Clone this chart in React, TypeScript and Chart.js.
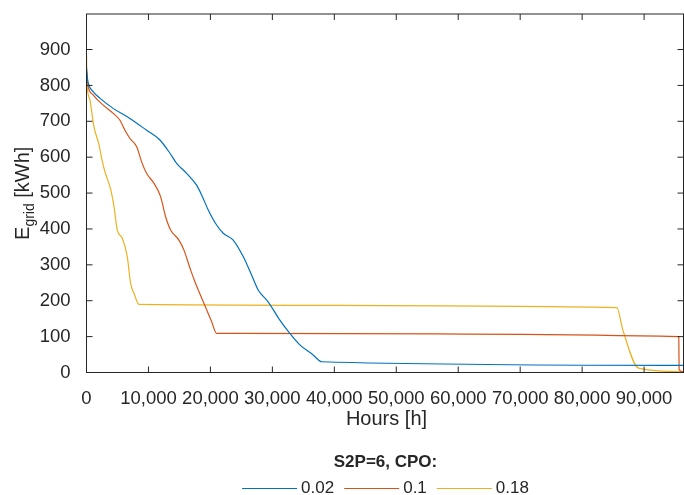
import { useEffect, useRef } from 'react';
import { Chart, registerables } from 'chart.js';

Chart.register(...registerables);

// ---- data ----
const seriesLabels = ['0.02', '0.1', '0.18'];
const seriesColors = ['#0072BD', '#D95319', '#EDB120'];
const legendTitle = 'S2P=6, CPO:';
const xAxisTitle = 'Hours [h]';
const yAxisMain = 'E';
const yAxisSub = 'grid';
const yAxisUnit = ' [kWh]';

const xTickValues = [0, 10000, 20000, 30000, 40000, 50000, 60000, 70000, 80000, 90000];
const yTickValues = [0, 100, 200, 300, 400, 500, 600, 700, 800, 900];

const hours002 = [0, 150, 300, 1100, 2200, 4300, 7000, 9700, 11850, 13470, 14550, 16160, 17770, 18600, 19650, 21000, 22070, 23680, 25290, 26640, 27710, 29320, 31210, 32820, 34440, 36580, 37940, 96360];
const energy002 = [850, 820, 805, 782, 764, 736, 708, 675, 648, 611, 583, 555, 522, 494, 453, 411, 388, 369, 323, 272, 230, 197, 146, 109, 77, 49, 30, 20];

const hours01 = [0, 150, 290, 1100, 2710, 4320, 5400, 6210, 7020, 8100, 8900, 9700, 10900, 11960, 12770, 13580, 14920, 15730, 16800, 17610, 18950, 20190, 21000, 95600, 95650, 96360];
const energy01 = [840, 815, 796, 773, 745, 722, 703, 675, 652, 629, 587, 555, 527, 490, 434, 397, 369, 341, 286, 248, 193, 142, 109, 100, 8, 2];

const hours018 = [0, 60, 150, 560, 1200, 2020, 2550, 2980, 3900, 4440, 4970, 5780, 6580, 7130, 7660, 8470, 85600, 86580, 89110, 96360];
const energy018 = [889, 820, 790, 759, 685, 635, 588, 559, 510, 462, 397, 374, 323, 248, 221, 190, 181, 118, 12, 2];

const X_MAX = 96360;
const Y_MAX = 999;

const FONT = "'Liberation Sans', Arial, Helvetica, sans-serif";
const TEXT = '#262626';

function toPoints(xs: number[], ys: number[]) {
  return xs.map((x, i) => ({ x, y: ys[i] }));
}

const decorPlugin = {
  id: 'decor',
  afterDatasetsDraw(chart: any) {
    const { ctx, chartArea: a, scales } = chart;
    const xs = scales.x;
    const ys = scales.y;
    ctx.save();
    // box
    ctx.strokeStyle = '#262626';
    ctx.lineWidth = 1;
    ctx.strokeRect(a.left, a.top, a.right - a.left, a.bottom - a.top);
    // inward ticks
    const tl = 6;
    ctx.beginPath();
    for (const v of xTickValues) {
      const px = xs.getPixelForValue(v);
      ctx.moveTo(px, a.bottom);
      ctx.lineTo(px, a.bottom - tl);
      ctx.moveTo(px, a.top);
      ctx.lineTo(px, a.top + tl);
    }
    for (const v of yTickValues) {
      const py = ys.getPixelForValue(v);
      ctx.moveTo(a.left, py);
      ctx.lineTo(a.left + tl, py);
      ctx.moveTo(a.right, py);
      ctx.lineTo(a.right - tl, py);
    }
    ctx.stroke();

    ctx.fillStyle = TEXT;
    // x-axis title
    ctx.font = `20px ${FONT}`;
    ctx.textAlign = 'center';
    ctx.textBaseline = 'middle';
    ctx.fillText(xAxisTitle, (a.left + a.right) / 2 + 1.5, 419);

    // y-axis title (rotated, with subscript)
    const mainFont = `20px ${FONT}`;
    const subFont = `14px ${FONT}`;
    ctx.font = mainFont;
    const wE = ctx.measureText(yAxisMain).width;
    const wU = ctx.measureText(yAxisUnit).width;
    ctx.font = subFont;
    const wS = ctx.measureText(yAxisSub).width;
    const total = wE + wS + wU;
    ctx.save();
    ctx.translate(28.5, (a.top + a.bottom) / 2);
    ctx.rotate(-Math.PI / 2);
    ctx.textAlign = 'left';
    ctx.textBaseline = 'alphabetic';
    let cx = -total / 2;
    ctx.font = mainFont;
    ctx.fillText(yAxisMain, cx, 0);
    cx += wE;
    ctx.font = subFont;
    ctx.fillText(yAxisSub, cx, 5);
    cx += wS;
    ctx.font = mainFont;
    ctx.fillText(yAxisUnit, cx, 0);
    ctx.restore();

    // legend
    const centerX = 385.5;
    ctx.font = `bold 17px ${FONT}`;
    ctx.textAlign = 'center';
    ctx.textBaseline = 'middle';
    ctx.fillText(legendTitle, centerX, 462);

    ctx.font = `17px ${FONT}`;
    const lineLen = 55;
    const gap = 4;
    const itemGap = 10;
    const widths = seriesLabels.map((l) => ctx.measureText(l).width);
    const legendW = seriesLabels.length * (lineLen + gap) + widths.reduce((s, w) => s + w, 0) + (seriesLabels.length - 1) * itemGap;
    let lx = centerX - legendW / 2;
    const ly = 488;
    ctx.textAlign = 'left';
    seriesLabels.forEach((label, i) => {
      ctx.strokeStyle = seriesColors[i];
      ctx.lineWidth = 1.2;
      ctx.beginPath();
      ctx.moveTo(lx, ly + 0.5);
      ctx.lineTo(lx + lineLen, ly + 0.5);
      ctx.stroke();
      lx += lineLen + gap;
      ctx.fillStyle = TEXT;
      ctx.fillText(label, lx, ly);
      lx += widths[i] + itemGap;
    });
    ctx.restore();
  },
};

export default function App() {
  const canvasRef = useRef<HTMLCanvasElement | null>(null);

  useEffect(() => {
    const canvas = canvasRef.current;
    if (!canvas) return;
    const datasets = [
      toPoints(hours002, energy002),
      toPoints(hours01, energy01),
      toPoints(hours018, energy018),
    ].map((data, i) => ({
      label: seriesLabels[i],
      data,
      borderColor: seriesColors[i],
      backgroundColor: seriesColors[i],
      borderWidth: 1.2,
      pointRadius: 0,
      fill: false,
      cubicInterpolationMode: 'monotone' as const,
    }));

    const chart = new Chart(canvas, {
      type: 'line',
      data: { datasets },
      options: {
        animation: false,
        responsive: false,
        devicePixelRatio: 1,
        layout: { padding: { top: 14, right: 0.5, left: 0, bottom: 0 } },
        plugins: {
          legend: { display: false },
          tooltip: { enabled: false },
          title: { display: false },
        },
        scales: {
          x: {
            type: 'linear',
            min: 0,
            max: X_MAX,
            grid: { display: false },
            border: { display: false },
            afterFit: (s: any) => {
              s.height = 122.5;
              s.paddingLeft = 0;
              s.paddingRight = 0;
            },
            afterBuildTicks: (s: any) => {
              s.ticks = xTickValues.map((v) => ({ value: v }));
            },
            ticks: {
              padding: 7,
              maxRotation: 0,
              autoSkip: false,
              color: TEXT,
              font: { family: FONT, size: 18.5 },
              callback: (v: any) => Number(v).toLocaleString('en-US'),
            },
          },
          y: {
            type: 'linear',
            min: 0,
            max: Y_MAX,
            grid: { display: false },
            border: { display: false },
            afterFit: (s: any) => {
              s.width = 86.5;
              s.paddingTop = 0;
              s.paddingBottom = 0;
            },
            afterBuildTicks: (s: any) => {
              s.ticks = yTickValues.map((v) => ({ value: v }));
            },
            ticks: {
              padding: 8,
              autoSkip: false,
              color: TEXT,
              font: { family: FONT, size: 18.5 },
              callback: (v: any) => String(v),
            },
          },
        },
      },
      plugins: [decorPlugin],
    });
    return () => chart.destroy();
  }, []);

  return (
    <div style={{ position: 'fixed', left: 0, top: 0, width: 684, height: 495, background: '#fff' }}>
      <canvas ref={canvasRef} width={684} height={495} style={{ display: 'block' }} />
    </div>
  );
}
